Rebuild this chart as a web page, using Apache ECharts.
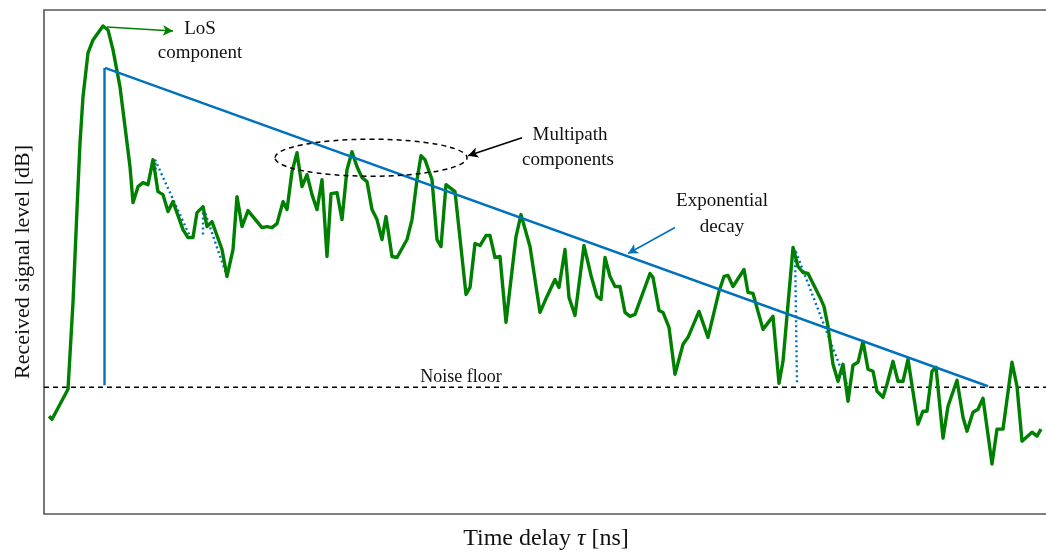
<!DOCTYPE html>
<html>
<head>
<meta charset="utf-8">
<script src="https://cdn.jsdelivr.net/npm/echarts@6/dist/echarts.min.js"></script>
<style>
html,body{margin:0;padding:0;background:#fff;overflow:hidden;}
#c{width:1060px;height:556px;}
</style>
</head>
<body>
<div id="c"></div>
<script>
// Time delay (arbitrary ns units) and received level (arbitrary dB units)
var receivedSignal = [
[5,98],[8,95],[24,125],[29,212],[33,305],[36,372],[39,418],[44,462],[49,475],[54,482],[59,489],[64,485],[69,465],[76,428],[81,388],[86,348],[89,312],[94,328],[99,332],[104,330],[109,355],[114,323],[119,320],[124,303],[129,313],[139,285],[144,277],[149,277],[153,302],[159,308],[163,288],[168,293],[178,265],[183,238],[189,265],[193,318],[198,288],[204,304],[218,287],[223,288],[228,287],[233,291],[239,313],[243,305],[248,343],[253,362],[258,328],[263,340],[268,320],[273,305],[278,335],[283,258],[287,321],[293,322],[298,295],[303,345],[308,363],[313,348],[318,337],[323,333],[328,305],[333,295],[338,275],[342,298],[348,258],[353,257],[363,275],[368,295],[373,335],[377,359],[381,355],[388,335],[393,275],[397,268],[402,330],[411,323],[422,220],[426,227],[431,271],[436,269],[442,279],[446,279],[451,257],[456,258],[462,192],[467,235],[472,278],[477,300],[486,268],[496,202],[503,218],[511,235],[515,227],[521,265],[525,217],[531,199],[540,269],[547,239],[553,218],[557,215],[561,257],[566,238],[571,228],[576,228],[581,202],[586,198],[591,200],[606,241],[609,237],[615,204],[619,202],[625,187],[631,140],[639,170],[644,177],[655,203],[664,177],[670,202],[675,223],[680,238],[684,239],[689,228],[700,245],[704,222],[709,221],[719,185],[729,198],[735,131],[739,153],[749,267],[754,248],[759,242],[764,241],[776,217],[780,208],[784,188],[789,150],[794,133],[799,150],[804,113],[809,149],[814,152],[819,173],[824,145],[829,143],[833,123],[839,117],[843,130],[849,153],[854,133],[859,133],[864,155],[874,90],[879,103],[883,103],[888,143],[892,147],[899,76],[904,108],[913,134],[919,97],[923,83],[929,102],[934,105],[939,116],[948,50],[953,85],[959,85],[968,152],[973,128],[978,73],[988,82],[993,78],[997,85]
];
var losImpulse = [[60.5,447],[60.5,129]];
var exponentialDecay = [[61,447],[944,128]];
var multipathDecay1 = [[113,325],[111,355],[146,278]];
var multipathDecay2 = [[159,280],[159,308],[183,238]];
var multipathDecay3 = [[753,132],[751,265],[806,122]];
var noiseFloorLevel = 127;
var xRange = [0, 1004];
var yRange = [0, 505];

var serif = '"Liberation Serif","DejaVu Serif",serif';
var green = '#008000';
var blue = '#0072bd';

var chart = echarts.init(document.getElementById('c'), null, {renderer:'canvas'});

function dotted(data){
  return {type:'line', data:data, showSymbol:false, silent:true, z:3,
    lineStyle:{color:blue, width:2.4, type:[2,3]}};
}

var option = {
  animation:false,
  backgroundColor:'#fff',
  grid:{left:44, right:12, top:10, bottom:41, show:true, borderColor:'#555', borderWidth:1.6, backgroundColor:'transparent'},
  xAxis:{type:'value', min:xRange[0], max:xRange[1], axisLine:{show:false}, axisTick:{show:false}, axisLabel:{show:false}, splitLine:{show:false},
    name:'Time delay {i|τ} [ns]', nameLocation:'middle', nameGap:13,
    nameTextStyle:{fontFamily:serif, fontSize:24, color:'#111', verticalAlign:'top',
      rich:{i:{fontFamily:serif, fontSize:24, fontStyle:'italic', color:'#111'}}}},
  yAxis:{type:'value', min:yRange[0], max:yRange[1], axisLine:{show:false}, axisTick:{show:false}, axisLabel:{show:false}, splitLine:{show:false},
    name:'Received signal level [dB]', nameLocation:'middle', nameGap:10,
    nameTextStyle:{fontFamily:serif, fontSize:22, color:'#111'}},
  series:[
    {type:'line', data:[[xRange[0],noiseFloorLevel],[xRange[1],noiseFloorLevel]], showSymbol:false, silent:true, z:1,
      lineStyle:{color:'#000', width:1.5, type:[5,4]}},
    dotted(multipathDecay1),
    dotted(multipathDecay2),
    dotted(multipathDecay3),
    {type:'line', data:receivedSignal, showSymbol:false, silent:true, z:4,
      lineStyle:{color:green, width:3.4, join:'round'}},
    {type:'line', data:losImpulse, showSymbol:false, silent:true, z:5, lineStyle:{color:blue, width:2.4}},
    {type:'line', data:exponentialDecay, showSymbol:false, silent:true, z:5, lineStyle:{color:blue, width:2.4},
      markLine:{silent:true, symbol:['none','arrow'], symbolSize:[8,10], label:{show:false},
        data:[
          [{coord:[63,488], lineStyle:{color:green, width:1.6, type:'solid'}},{coord:[129,484]}],
          [{coord:[478,377], lineStyle:{color:'#000', width:1.6, type:'solid'}},{coord:[424,359]}],
          [{coord:[631,287], lineStyle:{color:blue, width:1.6, type:'solid'}},{coord:[584,261]}]
        ]}}
  ]
};
chart.setOption(option);

function px(pt){ return chart.convertToPixel({gridIndex:0}, pt); }
function txt(pt, s, size){
  var p = px(pt);
  return {type:'text', x:p[0], y:p[1], silent:true, z:10,
    style:{text:s, font:size+'px '+serif, fill:'#111', align:'center', verticalAlign:'middle'}};
}
var ec = px([327,357]);
chart.setOption({graphic:[
  {type:'ellipse', shape:{cx:ec[0], cy:ec[1], rx:96, ry:18.5}, silent:true, z:10,
    style:{fill:'none', stroke:'#000', lineWidth:1.5, lineDash:[5,4]}},
  txt([156,486],'LoS',19),
  txt([156,462],'component',19),
  txt([526,380],'Multipath',19),
  txt([524,355],'components',19),
  txt([678,314],'Exponential',19),
  txt([678,288],'decay',19),
  txt([417,137],'Noise floor',18)
]});
</script>
</body>
</html>
